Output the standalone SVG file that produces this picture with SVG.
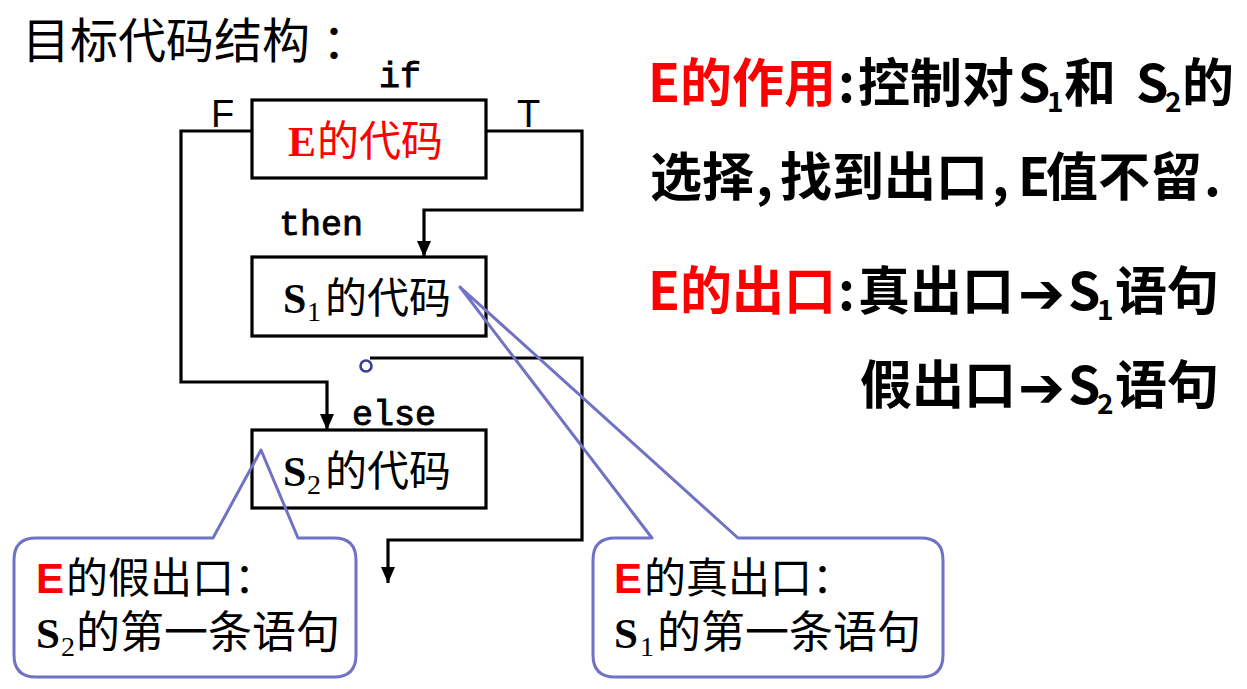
<svg xmlns="http://www.w3.org/2000/svg" width="1247" height="689" viewBox="0 0 1247 689">
  <defs>
    <style>
      .ln { fill: none; stroke: #000; stroke-width: 3.2; }
      .bx { fill: #fff; stroke: #000; stroke-width: 3.2; }
      .co { fill: none; stroke: #7171c6; stroke-width: 3; stroke-linejoin: round; }
      .cjk { font-family: "Noto Sans CJK SC", "Liberation Sans", sans-serif; }
      .ser { font-family: "Liberation Serif", serif; font-weight: bold; }
      .serR { font-family: "Liberation Serif", serif; }
      .mono { font-family: "Liberation Mono", monospace; stroke: #000; stroke-width: 0.9; }
      .ar { font-family: "Liberation Sans", Arial, sans-serif; }
      .hd { font-family: "Noto Sans CJK SC", "Liberation Sans", sans-serif; font-weight: bold; font-size: 52px; }
      .arw { font-family: "DejaVu Sans", sans-serif; font-size: 56px; }
      .red { fill: #ff0000; }
    </style>
    <marker id="arr" markerUnits="userSpaceOnUse" markerWidth="18" markerHeight="14" refX="16" refY="7" orient="auto">
      <path d="M0,0 L16,7 L0,14 z" fill="#000"/>
    </marker>
  </defs>

  <rect width="1247" height="689" fill="#fff"/>

  <!-- heading -->
  <text class="cjk" y="58" font-size="48"><tspan x="22">目标代码结构</tspan><tspan x="322">：</tspan></text>

  <!-- flow connectors -->
  <g id="connectors">
    <polyline class="ln" points="252,131 181,131 181,382 327,382 327,430" marker-end="url(#arr)"/>
    <polyline class="ln" points="486,131 582,131 582,210 424,210 424,257" marker-end="url(#arr)"/>
    <polyline class="ln" points="370,358 582,358 582,540 388,540 388,583" marker-end="url(#arr)"/>
    <circle cx="366" cy="366" r="5.5" fill="#fff" stroke="#3c3c96" stroke-width="2.6"/>
  </g>

  <!-- branch labels -->
  <g id="labels">
    <text class="mono" x="379" y="87" font-size="35">if</text>
    <text class="mono" x="279" y="235" font-size="35">then</text>
    <text class="mono" x="352" y="425" font-size="35">else</text>
    <text class="ar" x="211" y="127" font-size="38">F</text>
    <text class="ar" x="517" y="127" font-size="38">T</text>
  </g>

  <!-- code blocks -->
  <g id="node-e">
    <rect class="bx" x="252" y="100" width="234" height="78"/>
    <text y="156" font-size="42" class="red"><tspan class="ser" x="288">E</tspan><tspan class="cjk" x="317">的代码</tspan></text>
  </g>
  <g id="node-s1">
    <rect class="bx" x="252" y="257" width="234" height="79"/>
    <text font-size="42"><tspan class="ser" x="283" y="313">S</tspan><tspan class="serR" x="307" y="321" font-size="28">1</tspan><tspan class="cjk" x="325" y="313">的代码</tspan></text>
  </g>
  <g id="node-s2">
    <rect class="bx" x="252" y="430" width="234" height="78"/>
    <text font-size="42"><tspan class="ser" x="283" y="486">S</tspan><tspan class="serR" x="307" y="494" font-size="28">2</tspan><tspan class="cjk" x="325" y="486">的代码</tspan></text>
  </g>

  <!-- callout: false exit -->
  <g id="callout-false">
    <path class="co" d="M36,538 L213,538 L261,450 L298,538 L334,538 Q356,538 356,560 L356,655 Q356,677 334,677 L36,677 Q14,677 14,655 L14,560 Q14,538 36,538 Z"/>
    <text y="593" font-size="42"><tspan class="ar red" x="36" font-weight="bold">E</tspan><tspan class="cjk" x="66">的假出口：</tspan></text>
    <text font-size="43"><tspan class="ser" x="36" y="648">S</tspan><tspan class="serR" x="61" y="656" font-size="28">2</tspan><tspan class="cjk" x="76" y="648" font-size="44">的第一条语句</tspan></text>
  </g>

  <!-- callout: true exit -->
  <g id="callout-true">
    <path class="co" d="M615,538 L652,538 L460,287 L738,538 L921,538 Q943,538 943,560 L943,655 Q943,677 921,677 L615,677 Q593,677 593,655 L593,560 Q593,538 615,538 Z"/>
    <text y="593" font-size="42"><tspan class="ar red" x="614" font-weight="bold">E</tspan><tspan class="cjk" x="644">的真出口：</tspan></text>
    <text font-size="43"><tspan class="ser" x="614" y="648">S</tspan><tspan class="serR" x="640" y="656" font-size="28">1</tspan><tspan class="cjk" x="657" y="648" font-size="44">的第一条语句</tspan></text>
  </g>

  <!-- notes on the right -->
  <g id="notes">
    <text class="hd" y="102"><tspan class="red" x="648">E的作用</tspan><tspan x="838">:</tspan><tspan x="858">控制对</tspan><tspan x="1018">S</tspan><tspan x="1047" y="112" font-size="28">1</tspan><tspan x="1064" y="102">和</tspan><tspan x="1136">S</tspan><tspan x="1165" y="112" font-size="28">2</tspan><tspan x="1182" y="102">的</tspan></text>
    <text class="hd" y="196"><tspan x="650">选择</tspan><tspan x="756">,</tspan><tspan x="780">找到出口</tspan><tspan x="992">,</tspan><tspan x="1018">E</tspan><tspan x="1046">值不留</tspan><tspan x="1204">.</tspan></text>
    <text class="hd" y="310"><tspan class="red" x="648">E的出口</tspan><tspan x="838">:</tspan><tspan x="858">真出口</tspan><tspan class="arw" x="1018" y="313">➔</tspan><tspan x="1068" y="310">S</tspan><tspan x="1097" y="320" font-size="28">1</tspan><tspan x="1115" y="310">语句</tspan></text>
    <text class="hd" y="404"><tspan x="860">假出口</tspan><tspan class="arw" x="1018" y="407">➔</tspan><tspan x="1068" y="404">S</tspan><tspan x="1097" y="414" font-size="28">2</tspan><tspan x="1115" y="404">语句</tspan></text>
  </g>
</svg>
